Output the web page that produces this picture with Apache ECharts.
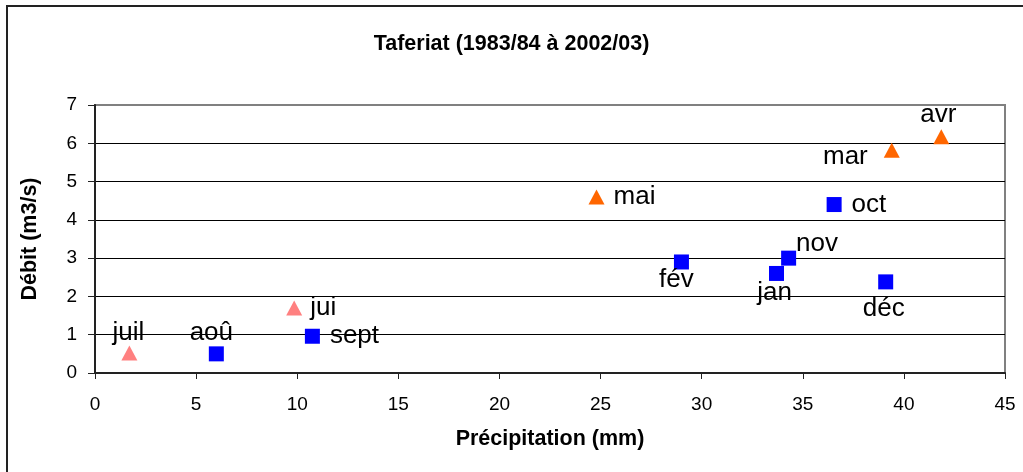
<!DOCTYPE html>
<html>
<head>
<meta charset="utf-8">
<script src="https://cdn.jsdelivr.net/npm/echarts@6/dist/echarts.min.js"></script>
<style>
  html, body { margin: 0; padding: 0; background: #fff; }
  #chart { width: 1023px; height: 472px; }
</style>
</head>
<body>
<div id="chart"></div>
<script>
// Taferiat : débit moyen mensuel en fonction de la précipitation mensuelle
const titre = 'Taferiat (1983/84 à 2002/03)';
const xTitre = 'Précipitation (mm)';
const yTitre = 'Débit (m3/s)';

// Mois secs (triangles roses)
const moisEte = ['juil', 'jui'];
const precipEte = [1.7, 9.85];
const debitEte = [0.52, 1.7];

// Mois de printemps (triangles orange)
const moisPrintemps = ['mai', 'mar', 'avr'];
const precipPrintemps = [24.8, 39.4, 41.85];
const debitPrintemps = [4.6, 5.82, 6.17];

// Autres mois (carrés bleus)
const moisAutres = ['aoû', 'sept', 'oct', 'nov', 'déc', 'jan', 'fév'];
const precipAutres = [6.0, 10.75, 36.55, 34.3, 39.1, 33.7, 29.0];
const debitAutres = [0.5, 0.96, 4.4, 3.0, 2.38, 2.6, 2.9];

// Placement des étiquettes autour de chaque point
const placement = {
  'juil': { position: 'top', distance: 0, offset: [-1, 0] },
  'jui':  { position: 'right', distance: 8 },
  'mai':  { position: 'right', distance: 9 },
  'mar':  { position: 'left', distance: 16, offset: [0, 7] },
  'avr':  { position: 'top', distance: 1, offset: [-3, 0] },
  'aoû':  { position: 'top', distance: 1, offset: [-5, 0] },
  'sept': { position: 'right', distance: 10 },
  'oct':  { position: 'right', distance: 10 },
  'nov':  { position: 'right', distance: 0, offset: [0, -14] },
  'déc':  { position: 'bottom', distance: 6, offset: [-2, 0] },
  'jan':  { position: 'bottom', distance: -1, offset: [-2, 0] },
  'fév':  { position: 'bottom', distance: -3, offset: [-5, 0] }
};

const police = "'Liberation Sans', Arial, sans-serif";

function points(mois, xs, ys) {
  return mois.map((m, i) => ({
    name: m,
    value: [xs[i], ys[i]],
    label: Object.assign({}, placement[m])
  }));
}

function serie(nom, mois, xs, ys, symbole, taille, couleur) {
  return {
    name: nom,
    type: 'scatter',
    symbol: symbole,
    symbolSize: taille,
    itemStyle: { color: couleur, opacity: 1 },
    label: {
      show: true,
      formatter: '{b}',
      color: '#000',
      fontSize: 26,
      fontFamily: police
    },
    emphasis: { disabled: true },
    data: points(mois, xs, ys),
    z: 5
  };
}

// Quadrillage noir, sauf la ligne du haut qui reste grise comme le cadre
const couleursQuadrillage = ['#000', '#000', '#000', '#000', '#000', '#000', '#000', '#808080'];

const chart = echarts.init(document.getElementById('chart'), null, { renderer: 'canvas' });

chart.setOption({
  animation: false,
  backgroundColor: '#fff',
  title: {
    text: titre,
    left: 'center',
    top: 28,
    textStyle: { fontFamily: police, fontWeight: 'bold', fontSize: 21.5, color: '#000' }
  },
  graphic: [{
    type: 'rect',
    shape: { x: 7, y: 6, width: 1040, height: 500 },
    style: { fill: 'none', stroke: '#222', lineWidth: 2 },
    silent: true
  }],
  grid: {
    left: 95, right: 18, top: 105, bottom: 99,
    show: true,
    borderColor: '#808080',
    borderWidth: 2,
    backgroundColor: 'transparent'
  },
  xAxis: {
    type: 'value',
    min: 0, max: 45, interval: 5,
    name: xTitre,
    nameLocation: 'middle',
    nameGap: 55,
    nameTextStyle: { fontFamily: police, fontWeight: 'bold', fontSize: 21.5, color: '#000' },
    axisLine: { show: true, onZero: false, lineStyle: { color: '#222', width: 2 } },
    axisTick: { show: true, inside: false, length: 6, lineStyle: { color: '#222', width: 1 } },
    axisLabel: { margin: 22, fontFamily: police, fontSize: 19, color: '#000' },
    splitLine: { show: false }
  },
  yAxis: {
    type: 'value',
    min: 0, max: 7, interval: 1,
    name: yTitre,
    nameLocation: 'middle',
    nameGap: 54,
    nameRotate: 90,
    nameTextStyle: { fontFamily: police, fontWeight: 'bold', fontSize: 21.5, color: '#000' },
    axisLine: { show: true, onZero: false, lineStyle: { color: '#222', width: 2 } },
    axisTick: { show: true, inside: false, length: 7, lineStyle: { color: '#222', width: 1 } },
    axisLabel: { margin: 18, fontFamily: police, fontSize: 19, color: '#000' },
    splitLine: { show: true, lineStyle: { color: couleursQuadrillage, width: 1 } }
  },
  series: [
    serie('Été', moisEte, precipEte, debitEte, 'triangle', [16, 15], '#FF8080'),
    serie('Printemps', moisPrintemps, precipPrintemps, debitPrintemps, 'triangle', [16, 15], '#FF6600'),
    serie('Autres mois', moisAutres, precipAutres, debitAutres, 'rect', 15, '#0000FF')
  ]
});
</script>
</body>
</html>
